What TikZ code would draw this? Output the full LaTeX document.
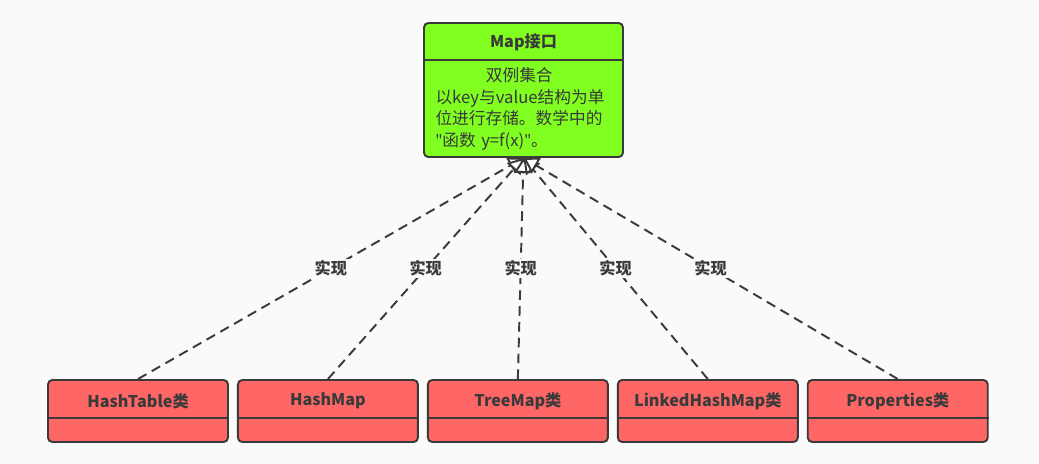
\documentclass[tikz,border=0pt]{standalone}
\usepackage{fontspec}
\setmainfont{Noto Sans CJK SC}
\newfontfamily\quotefont{Noto Sans}
\usetikzlibrary{arrows.meta, positioning}

\definecolor{linegray}{HTML}{3A3A3A}
\definecolor{mapgreen}{HTML}{80FF20}
\definecolor{classred}{HTML}{FF6666}
\definecolor{pagebg}{HTML}{FAFAFA}

\tikzset{
  ifacebox/.style={draw=linegray, line width=1.1pt, rounded corners=2.5pt, fill=mapgreen,
    minimum width=3.98cm, minimum height=2.68cm, inner sep=0pt},
  classbox/.style={draw=linegray, line width=1.1pt, rounded corners=2.5pt, fill=classred,
    minimum width=3.6cm, minimum height=1.24cm, inner sep=0pt},
  divider/.style={draw=linegray, line width=1.1pt},
  boxtitle/.style={font=\bfseries\fontsize{9.2}{11}\selectfont, text=linegray, inner sep=0pt},
  boxtext/.style={font=\fontsize{9.5}{12.4}\selectfont, text=linegray, align=left, text width=3.7cm, inner sep=0pt},
  realize/.style={draw=linegray, line width=1.1pt, dash pattern=on 5.5pt off 3.5pt,
    -{Triangle[open, fill=white, length=0.3cm, width=0.36cm]}},
  relabel/.style={fill=pagebg, inner sep=1pt, font=\bfseries\fontsize{9.2}{11}\selectfont, text=linegray}
}

\begin{document}
\begin{tikzpicture}[node distance=0.16cm]
    \fill[pagebg] (0,0) rectangle (20.78,-9.28);
    \useasboundingbox (0,0) rectangle (20.78,-9.28);

    % interface
    \node[ifacebox]                          (Map)       at (10.47,-1.8) {};
    \draw[divider] (Map.west |- 0,-1.2) -- (Map.east |- 0,-1.2);
    \node[boxtitle] (Map title) at (Map.north |- 0,-0.84) {Map接口};
    \node[boxtext]  (Map text)  at (10.56,-2.18)
        {\makebox[3.35cm][c]{双例集合}\\以key与value结构为单\\位进行存储。数学中的\\{\quotefont"}函数 y=f(x){\quotefont"}。};

    % classes
    \node[classbox]                          (HashTable)     at (2.76,-8.22) {};
    \node[classbox, right=of HashTable]      (HashMap)       {};
    \node[classbox, right=of HashMap]        (TreeMap)       {};
    \node[classbox, right=of TreeMap]        (LinkedHashMap) {};
    \node[classbox, right=of LinkedHashMap]  (Properties)    {};

    \node[boxtitle] (HashTable title)     at (HashTable.north |- 0,-8.02)     {HashTable类};
    \node[boxtitle] (HashMap title)       at (HashMap.north |- 0,-8.02)       {HashMap};
    \node[boxtitle] (TreeMap title)       at (TreeMap.north |- 0,-8.02)       {TreeMap类};
    \node[boxtitle] (LinkedHashMap title) at (LinkedHashMap.north |- 0,-8.02) {LinkedHashMap类};
    \node[boxtitle] (Properties title)    at (Properties.north |- 0,-8.02)    {Properties类};

    \foreach \c in {HashTable, HashMap, TreeMap, LinkedHashMap, Properties}
        \draw[divider] (\c.west |- 0,-8.36) -- (\c.east |- 0,-8.36);

    % realizations
    \foreach \c in {HashTable, HashMap, TreeMap, LinkedHashMap, Properties}
        \draw[realize] (\c.north) -- node[relabel] {实现} (Map.south);
\end{tikzpicture}
\end{document}
